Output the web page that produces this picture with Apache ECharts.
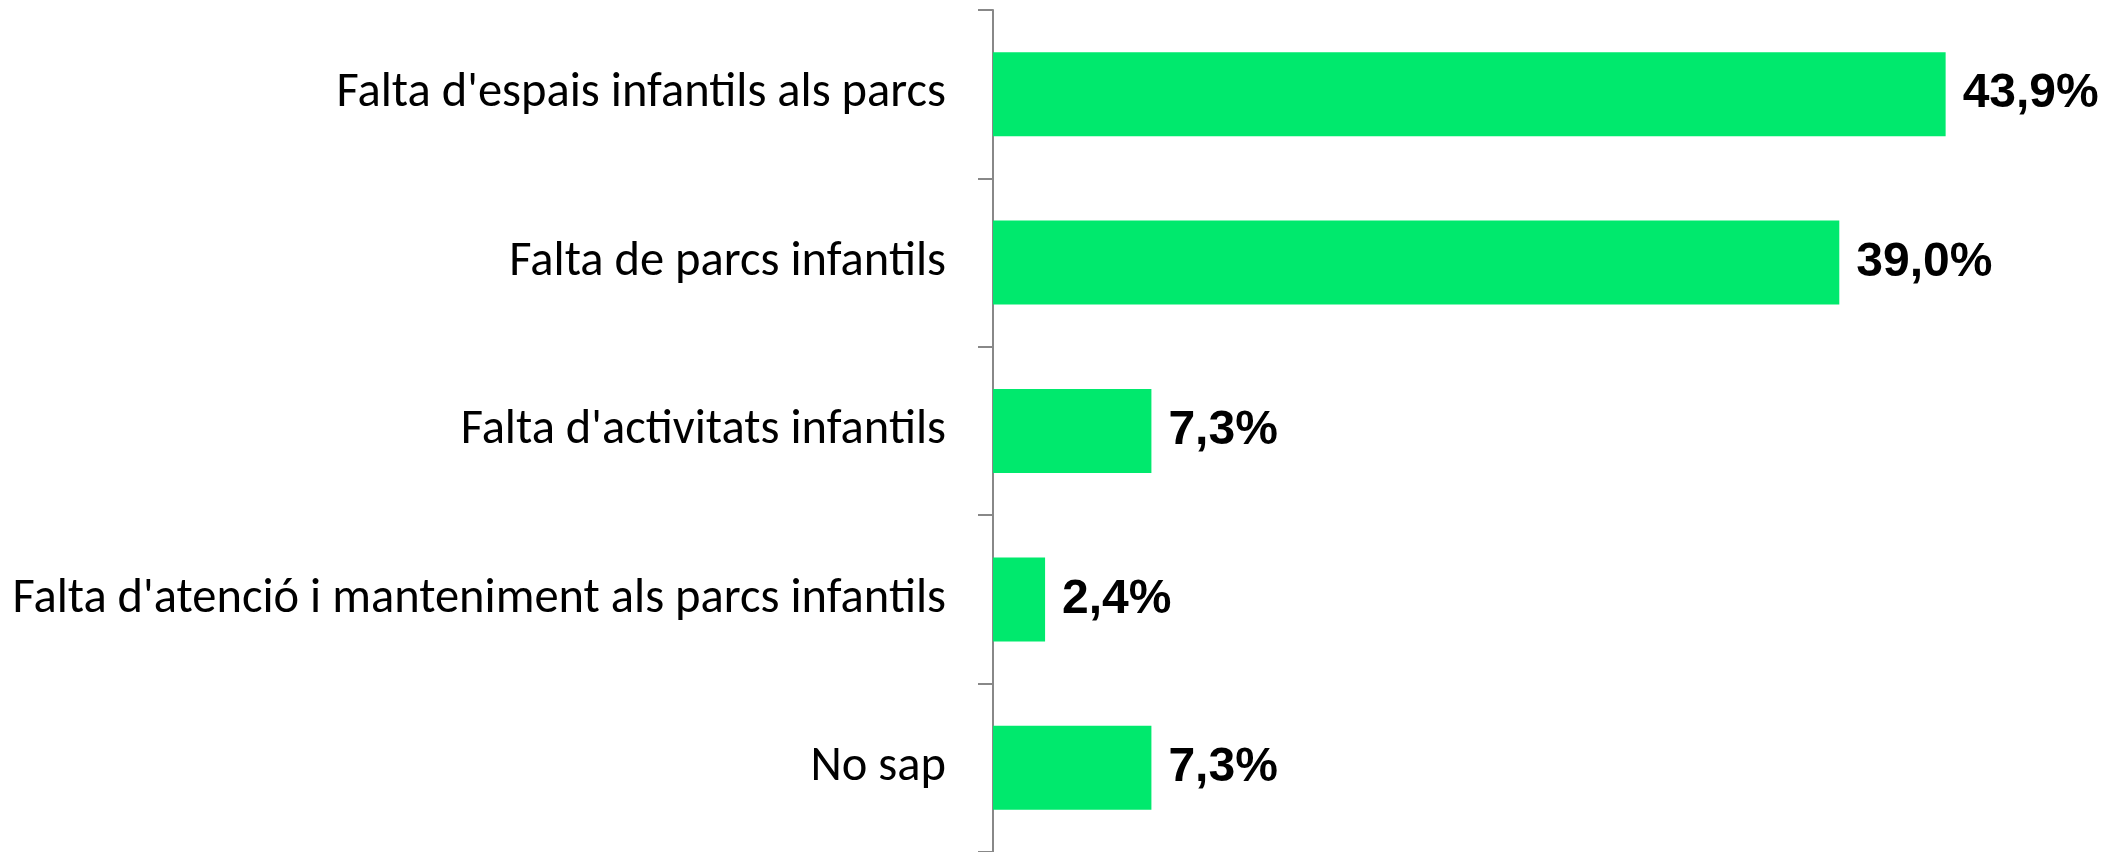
<!DOCTYPE html>
<html>
<head>
<meta charset="utf-8">
<script src="https://cdn.jsdelivr.net/npm/echarts@6/dist/echarts.min.js"></script>
<style>
html,body{margin:0;padding:0;background:#fff;}
#c{width:2116px;height:852px;}
</style>
</head>
<body>
<div id="c"></div>
<script>
const categories = [
  "Falta d'espais infantils als parcs",
  "Falta de parcs infantils",
  "Falta d'activitats infantils",
  "Falta d'atenció i manteniment als parcs infantils",
  "No sap"
];
const values = [43.9, 39.0, 7.3, 2.4, 7.3];

const chart = echarts.init(document.getElementById('c'), null, {renderer: 'canvas'});
chart.setOption({
  animation: false,
  backgroundColor: '#ffffff',
  grid: {left: 993, right: 38, top: 10, bottom: -3, containLabel: false},
  xAxis: {
    type: 'value', min: 0, max: 50, show: false
  },
  yAxis: {
    type: 'category',
    data: categories,
    inverse: true,
    axisLine: {show: true, lineStyle: {color: '#888888', width: 2}},
    axisTick: {show: true, length: 15, lineStyle: {color: '#888888', width: 2}},
    axisLabel: {
      margin: 47,
      color: '#000000',
      fontFamily: 'Carlito, Lato, "Noto Sans", sans-serif',
      fontSize: 48.5
    },
    splitLine: {show: false}
  },
  series: [{
    type: 'bar',
    data: values,
    barWidth: 84,
    itemStyle: {color: '#00E96D'},
    label: {
      show: true,
      position: 'right',
      distance: 17,
      color: '#000000',
      fontFamily: '"Liberation Sans", Arial, sans-serif',
      fontWeight: 'bold',
      fontSize: 48,
      formatter: p => p.value.toFixed(1).replace('.', ',') + '%'
    }
  }]
});
</script>
</body>
</html>
